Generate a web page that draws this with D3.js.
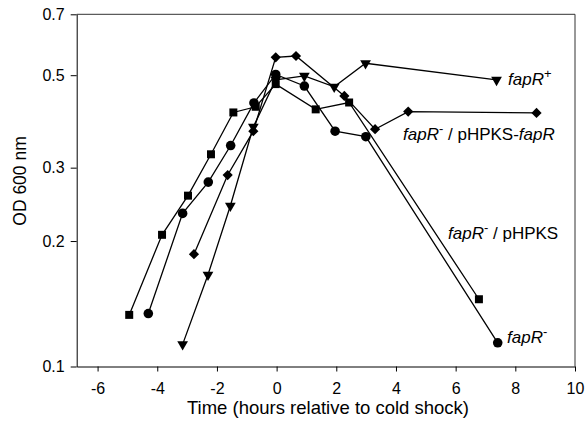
<!DOCTYPE html>
<html>
<head>
<meta charset="utf-8">
<script src="https://cdn.jsdelivr.net/npm/d3@7"></script>
<style>
  body { margin: 0; background: #fff; }
  svg { display: block; font-family: "Liberation Sans", Arial, Helvetica, sans-serif; }
  .axis path, .axis line { stroke: #000; stroke-width: 1; }
  .axis text { font-size: 16px; fill: #000; }
  .frame { stroke: #333; stroke-width: 1; fill: none; }
  .series { fill: none; stroke: #000; stroke-width: 1.3; }
  .title { font-size: 18.5px; fill: #000; }
  .lbl { font-size: 17px; fill: #000; }
</style>
</head>
<body>
<div id="chart"></div>
<script>
// hours relative to cold shock / OD600
const plusTime = [-3.15, -2.3, -1.55, -0.78, -0.03, 0.93, 1.93, 2.98, 7.37];
const plusOD   = [0.113, 0.166, 0.243, 0.376, 0.487, 0.498, 0.469, 0.534, 0.487];

const compTime = [-2.77, -1.64, -0.78, -0.03, 0.65, 2.27, 3.3, 4.41, 8.71];
const compOD   = [0.186, 0.288, 0.367, 0.552, 0.556, 0.446, 0.371, 0.409, 0.406];

const vecTime = [-4.94, -3.84, -2.97, -2.2, -1.45, -0.7, -0.03, 1.31, 2.43, 6.78];
const vecOD   = [0.133, 0.207, 0.257, 0.323, 0.407, 0.42, 0.476, 0.414, 0.43, 0.145];

const minusTime = [-4.3, -3.15, -2.29, -1.54, -0.76, -0.03, 0.93, 1.96, 2.99, 7.41];
const minusOD   = [0.134, 0.233, 0.277, 0.339, 0.429, 0.502, 0.471, 0.367, 0.356, 0.114];

const xTicks = [-6, -4, -2, 0, 2, 4, 6, 8, 10];
const yTicks = [0.1, 0.2, 0.3, 0.5, 0.7];

const width = 585, height = 427;
const margin = { left: 76.7, right: 575, top: 14.3, bottom: 366.5 };

const x = d3.scaleLinear().domain([-6.7, 10]).range([margin.left, margin.right]);
const y = d3.scaleLog().domain([0.1, 0.7]).range([margin.bottom, margin.top]);

const svg = d3.select("#chart").append("svg")
  .attr("width", width)
  .attr("height", height);

// frame top / right
svg.append("path").attr("class", "frame")
  .attr("d", `M${margin.left},${margin.top}H${margin.right}V${margin.bottom}`);

svg.append("g").attr("class", "axis")
  .attr("transform", `translate(0,${margin.bottom})`)
  .call(d3.axisBottom(x).tickValues(xTicks).tickFormat(d => String(d)).tickSize(5).tickPadding(11).tickSizeOuter(0));

svg.append("g").attr("class", "axis")
  .attr("transform", `translate(${margin.left},0)`)
  .call(d3.axisLeft(y).tickValues(yTicks).tickFormat(d3.format(".1f")).tickSize(6).tickPadding(6).tickSizeOuter(0));

svg.append("text").attr("class", "title")
  .attr("x", 328).attr("y", 414)
  .attr("text-anchor", "middle")
  .text("Time (hours relative to cold shock)");

svg.append("text").attr("class", "title")
  .attr("transform", `translate(26,181) rotate(-90)`)
  .attr("text-anchor", "middle")
  .style("font-size", "17.5px")
  .text("OD 600 nm");

const series = [
  {t: vecTime, v: vecOD, sym: d3.symbolSquare, size: 64, rot: 0},
  {t: minusTime, v: minusOD, sym: d3.symbolCircle, size: 72, rot: 0},
  {t: compTime, v: compOD, sym: d3.symbolSquare, size: 52, rot: 45},
  {t: plusTime, v: plusOD, sym: d3.symbolTriangle, size: 50, rot: 180}
];

const line = d3.line().x(d => x(d[0])).y(d => y(d[1]));

series.forEach(s => {
  const pts = s.t.map((t, i) => [t, s.v[i]]);
  svg.append("path").attr("class", "series").attr("d", line(pts));
  svg.append("g").selectAll("path")
    .data(pts)
    .join("path")
    .attr("d", d3.symbol().type(s.sym).size(s.size))
    .attr("transform", d => `translate(${x(d[0])},${y(d[1])}) rotate(${s.rot})`)
    .attr("fill", "#000");
});

// annotations
function label(px, py, parts) {
  const t = svg.append("text").attr("class", "lbl").attr("x", px).attr("y", py);
  parts.forEach(p => {
    const ts = t.append("tspan").text(p.text);
    if (p.it) ts.attr("font-style", "italic");
    if (p.sup) ts.attr("dy", p.sup).attr("font-size", "13px");
    if (p.down) ts.attr("dy", p.down);
  });
}

label(508, 85, [{text: "fapR", it: true}, {text: "+", sup: -7}]);
label(403, 140, [{text: "fapR", it: true}, {text: "-", sup: -7}, {text: " / pHPKS-", down: 7}, {text: "fapR", it: true}]);
label(448, 239, [{text: "fapR", it: true}, {text: "-", sup: -7}, {text: " / pHPKS", down: 7}]);
label(507, 343, [{text: "fapR", it: true}, {text: "-", sup: -7}]);
</script>
</body>
</html>
